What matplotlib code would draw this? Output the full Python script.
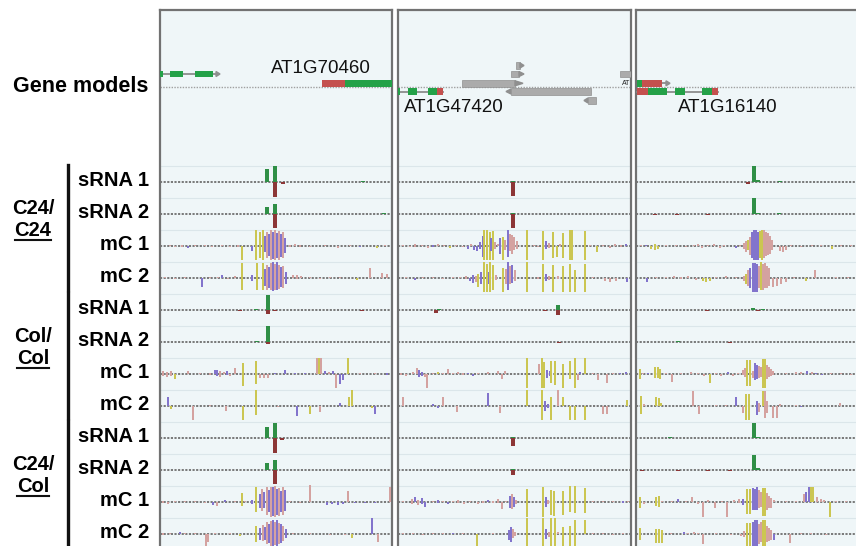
import matplotlib.pyplot as plt
from matplotlib.patches import Rectangle, Polygon

plt.rcParams['font.family'] = ['Liberation Sans', 'DejaVu Sans']

W, H = 856, 546

# ---- labels ----
TRACK_NAMES = ['sRNA 1', 'sRNA 2', 'mC 1', 'mC 2'] * 3
GROUPS = [('C24/', 'C24'), ('Col/', 'Col'), ('C24/', 'Col')]
GENE_LABELS = ['AT1G70460', 'AT1G47420', 'AT1G16140']
GENE_LABEL_POS = [(161, 68), (56, 107), (92, 107)]

# ---- gene models: (kind, start, end, row) ----
P1_GENES = [('line', 0, 56, 2), ('cds', 0, 3, 2), ('cds', 10, 23, 2), ('cds', 35, 53, 2), ('tipR', 56, 60, 2),
            ('utr', 162, 185, 1), ('cds', 185, 234, 1)]
P2_GENES = [('line', 0, 45, -1), ('cds', 0, 2, -1), ('cds', 10, 19, -1), ('cds', 30, 39, -1), ('utr', 39, 45, -1),
            ('te', 64, 117, 1), ('tipR', 117, 125, 1), ('te', 113, 121, 2), ('tipR', 121, 126, 2),
            ('te', 118, 122, 3), ('tipR', 122, 126, 3),
            ('tipL', 108, 113, -1), ('te', 113, 193, -1), ('tipL', 186, 190, -2), ('te', 190, 198, -2),
            ('te', 222, 234, 2)]
P3_GENES = [('line', 26, 32, 1), ('cds', 1, 6, 1), ('utr', 6, 26, 1), ('tipR', 30, 34, 1),
            ('line', 1, 82, -1), ('utr', 1, 12, -1), ('cds', 12, 31, -1), ('cds', 39, 49, -1),
            ('cds', 66, 76, -1), ('utr', 76, 82, -1)]

# ---- sRNA tracks: (position, watson reads, crick reads) ----
P1_C24_S1 = [(107, 13, 0), (115, 16, 15), (123, 0, 2), (203, 1, 0)]
P1_C24_S2 = [(107, 7, 0), (115, 10, 14), (224, 1, 0)]
P1_COL_S1 = [(80, 0, 1), (96, 1, 0), (108, 15, 4), (115, 0, 1), (202, 0, 1)]
P1_COL_S2 = [(97, 1, 0), (108, 16, 2)]
P1_HYB_S1 = [(107, 11, 0), (115, 15, 15), (122, 0, 2)]
P1_HYB_S2 = [(107, 7, 0), (115, 10, 14)]

P2_C24_S1 = [(115, 1, 14)]
P2_C24_S2 = [(115, 1, 14)]
P2_COL_S1 = [(38, 0, 3), (41, 1, 0), (147, 0, 1), (160, 5, 5)]
P2_COL_S2 = [(161, 0, 1)]
P2_HYB_S1 = [(115, 1, 8)]
P2_HYB_S2 = [(115, 1, 5)]

P3_C24_S1 = [(112, 0, 2), (118, 16, 0), (122, 2, 0), (144, 1, 0)]
P3_C24_S2 = [(19, 0, 1), (41, 0, 1), (72, 0, 1), (118, 16, 0), (122, 1, 0), (143, 1, 0)]
P3_COL_S1 = [(71, 0, 1), (117, 2, 0), (122, 0, 1), (127, 1, 0)]
P3_COL_S2 = [(42, 1, 0), (94, 0, 1)]
P3_HYB_S1 = [(34, 1, 0), (118, 15, 0), (122, 1, 0)]
P3_HYB_S2 = [(6, 0, 1), (42, 0, 1), (72, 0, 1), (94, 0, 1), (118, 15, 0), (122, 2, 0)]

# ---- methylation tracks: (position, watson mC, crick mC, context) ----
P1_C24_M1 = [(10, 1, 0, 'CHH'), (15, 0, 1, 'CHH'), (22, 1, 1, 'CHH'), (28, 0, 2, 'CHG'), (35, 1, 0, 'CHH'),
             (45, 1, 0, 'CHH'), (52, 0, 1, 'CHH'), (62, 1, 0, 'CHH'), (70, 0, 1, 'CHH'), (78, 1, 1, 'CHH'),
             (82, 0, 14, 'CG'), (92, 0, 5, 'CHG'), (96, 16, 14, 'CG'), (100, 14, 12, 'CG'), (103, 16, 14, 'CG'),
             (105, 10, 6, 'CHG'), (107, 14, 12, 'CHH'), (109, 12, 10, 'CHG'), (111, 16, 14, 'CHH'),
             (113, 14, 13, 'CHG'), (115, 16, 14, 'CHH'), (117, 13, 12, 'CHG'), (119, 15, 14, 'CHH'),
             (121, 12, 11, 'CHG'), (123, 14, 12, 'CHH'), (125, 8, 7, 'CHG'), (130, 1, 1, 'CHH'),
             (135, 2, 0, 'CHH'), (140, 1, 1, 'CHH'), (150, 0, 1, 'CHH'), (165, 1, 0, 'CHH'), (178, 0, 2, 'CHH'),
             (190, 1, 0, 'CHH'), (200, 0, 1, 'CHG'), (217, 0, 2, 'CG'), (225, 1, 0, 'CHH')]
P1_C24_M2 = [(5, 1, 0, 'CHH'), (15, 0, 1, 'CHH'), (25, 1, 0, 'CHH'), (42, 0, 9, 'CHG'), (50, 1, 0, 'CHH'),
             (58, 1, 0, 'CHH'), (62, 3, 0, 'CHG'), (68, 0, 1, 'CHH'), (75, 2, 0, 'CHH'), (82, 15, 12, 'CG'),
             (92, 3, 3, 'CHG'), (97, 15, 12, 'CG'), (103, 15, 12, 'CG'), (105, 9, 8, 'CHG'), (107, 13, 12, 'CHH'),
             (109, 11, 10, 'CHG'), (111, 15, 12, 'CHH'), (113, 16, 13, 'CHG'), (115, 14, 12, 'CHH'),
             (117, 16, 12, 'CHG'), (119, 13, 11, 'CHH'), (121, 11, 9, 'CHG'), (123, 12, 10, 'CHH'),
             (126, 6, 6, 'CHG'), (133, 3, 0, 'CHH'), (137, 3, 1, 'CHH'), (141, 2, 0, 'CHH'), (150, 1, 0, 'CHH'),
             (160, 0, 1, 'CHH'), (170, 1, 0, 'CHH'), (180, 1, 0, 'CHH'), (197, 0, 2, 'CG'), (210, 10, 0, 'CHH'),
             (222, 5, 0, 'CHH'), (227, 4, 0, 'CHH')]
P1_COL_M1 = [(3, 3, 2, 'CHH'), (7, 2, 3, 'CHH'), (11, 3, 2, 'CHH'), (15, 0, 5, 'CG'), (28, 3, 0, 'CHH'),
             (40, 1, 0, 'CHH'), (50, 1, 1, 'CHH'), (55, 4, 0, 'CHG'), (57, 4, 2, 'CHG'), (60, 3, 3, 'CHH'),
             (64, 2, 0, 'CHH'), (67, 3, 1, 'CHG'), (70, 0, 2, 'CHH'), (75, 6, 0, 'CHH'), (83, 11, 12, 'CG'),
             (96, 13, 10, 'CG'), (100, 0, 4, 'CHH'), (104, 0, 4, 'CHH'), (108, 0, 4, 'CHH'), (115, 1, 0, 'CHG'),
             (125, 4, 0, 'CHG'), (135, 1, 0, 'CHG'), (145, 1, 0, 'CHG'), (157, 16, 0, 'CHH'), (159, 16, 0, 'CG'),
             (161, 16, 0, 'CHH'), (165, 3, 0, 'CHG'), (169, 2, 0, 'CHH'), (173, 3, 0, 'CHG'), (176, 0, 14, 'CHH'),
             (180, 0, 10, 'CHG'), (183, 0, 6, 'CHG'), (188, 16, 0, 'CG'), (200, 1, 0, 'CHH'), (215, 1, 0, 'CHH'),
             (227, 1, 1, 'CHG')]
P1_COL_M2 = [(8, 9, 0, 'CHG'), (11, 0, 3, 'CG'), (33, 0, 14, 'CHH'), (50, 1, 0, 'CHH'), (66, 0, 5, 'CHH'),
             (83, 0, 14, 'CG'), (96, 16, 9, 'CG'), (118, 0, 1, 'CHH'), (137, 0, 10, 'CHG'), (150, 0, 8, 'CG'),
             (160, 0, 6, 'CHH'), (180, 3, 0, 'CHG'), (189, 9, 0, 'CG'), (192, 16, 0, 'CG'), (212, 0, 2, 'CG'),
             (215, 0, 8, 'CHG')]
P1_HYB_M1 = [(3, 1, 1, 'CHH'), (8, 0, 2, 'CHH'), (15, 1, 0, 'CHH'), (25, 1, 0, 'CHH'), (35, 1, 0, 'CHH'),
             (45, 0, 1, 'CHH'), (53, 0, 3, 'CHG'), (57, 0, 4, 'CHH'), (65, 2, 0, 'CHG'), (75, 1, 0, 'CHH'),
             (82, 9, 4, 'CG'), (85, 1, 0, 'CHH'), (92, 2, 2, 'CHG'), (96, 15, 10, 'CG'), (100, 8, 6, 'CHG'),
             (102, 13, 9, 'CHH'), (104, 10, 6, 'CHG'), (107, 15, 13, 'CHH'), (109, 12, 10, 'CHG'),
             (111, 15, 15, 'CHH'), (113, 15, 14, 'CHG'), (115, 16, 15, 'CHH'), (117, 13, 13, 'CHG'),
             (119, 14, 14, 'CHH'), (121, 11, 10, 'CHG'), (123, 15, 13, 'CHH'), (125, 12, 9, 'CHG'),
             (130, 1, 0, 'CHH'), (140, 0, 1, 'CHH'), (150, 17, 0, 'CHH'), (167, 0, 3, 'CHG'), (172, 0, 2, 'CHG'),
             (178, 0, 3, 'CHG'), (183, 0, 2, 'CHG'), (188, 11, 0, 'CHH'), (195, 0, 1, 'CHG'), (205, 0, 1, 'CHG'),
             (215, 0, 1, 'CHG'), (230, 15, 0, 'CHH')]
P1_HYB_M2 = [(3, 1, 1, 'CHH'), (10, 1, 0, 'CHH'), (20, 2, 0, 'CHG'), (25, 1, 0, 'CHH'), (35, 1, 0, 'CHH'),
             (46, 0, 14, 'CHH'), (48, 0, 8, 'CHH'), (55, 1, 0, 'CHH'), (70, 1, 0, 'CHH'), (80, 0, 2, 'CG'),
             (96, 8, 8, 'CG'), (100, 6, 6, 'CHG'), (103, 9, 7, 'CHH'), (105, 7, 6, 'CHG'), (107, 12, 10, 'CHH'),
             (109, 10, 9, 'CHG'), (111, 13, 12, 'CHH'), (113, 14, 12, 'CHG'), (115, 12, 11, 'CHH'),
             (117, 14, 12, 'CHG'), (119, 11, 10, 'CHH'), (121, 10, 9, 'CHG'), (123, 8, 7, 'CHH'),
             (126, 5, 4, 'CHG'), (133, 1, 0, 'CHH'), (150, 1, 0, 'CHH'), (170, 0, 1, 'CHH'), (185, 0, 1, 'CHH'),
             (192, 0, 4, 'CG'), (212, 16, 0, 'CHG'), (218, 0, 8, 'CHH')]

P2_C24_M1 = [(5, 1, 0, 'CHH'), (12, 0, 1, 'CHH'), (17, 2, 1, 'CHH'), (24, 1, 0, 'CHH'), (30, 0, 2, 'CHH'),
             (35, 1, 1, 'CHG'), (40, 2, 0, 'CHH'), (46, 1, 0, 'CHH'), (52, 0, 2, 'CG'), (58, 1, 0, 'CHH'),
             (65, 0, 1, 'CHH'), (70, 0, 3, 'CHG'), (73, 2, 0, 'CHH'), (76, 0, 4, 'CHG'), (79, 0, 5, 'CHG'),
             (82, 4, 3, 'CHG'), (85, 10, 11, 'CHG'), (86, 16, 14, 'CG'), (89, 16, 14, 'CG'), (92, 14, 14, 'CG'),
             (93, 8, 5, 'CHG'), (95, 15, 14, 'CG'), (97, 4, 3, 'CHH'), (100, 2, 0, 'CHH'), (102, 8, 8, 'CHG'),
             (105, 9, 14, 'CG'), (107, 6, 4, 'CHH'), (110, 16, 11, 'CHG'), (112, 12, 5, 'CHH'), (114, 11, 8, 'CHH'),
             (116, 9, 4, 'CHH'), (119, 5, 3, 'CHH'), (129, 16, 14, 'CG'), (136, 1, 0, 'CHH'), (140, 0, 1, 'CHH'),
             (145, 15, 14, 'CG'), (148, 5, 3, 'CHG'), (151, 3, 2, 'CHH'), (155, 14, 12, 'CG'), (159, 0, 11, 'CG'),
             (162, 2, 0, 'CHH'), (165, 13, 12, 'CG'), (172, 16, 14, 'CG'), (174, 16, 14, 'CG'), (187, 15, 14, 'CG'),
             (192, 1, 0, 'CHH'), (199, 0, 6, 'CG'), (205, 1, 0, 'CHH'), (212, 0, 2, 'CHH'), (217, 2, 0, 'CHH'),
             (223, 1, 1, 'CHH'), (228, 2, 0, 'CHG')]
P2_C24_M2 = [(8, 1, 0, 'CHH'), (17, 0, 2, 'CHG'), (25, 1, 0, 'CHH'), (35, 1, 0, 'CHH'), (45, 0, 1, 'CHH'),
             (55, 1, 0, 'CHH'), (62, 1, 0, 'CHH'), (68, 2, 1, 'CHH'), (72, 0, 3, 'CHG'), (75, 3, 5, 'CHG'),
             (78, 2, 4, 'CHH'), (80, 4, 9, 'CG'), (83, 6, 6, 'CHG'), (86, 16, 14, 'CG'), (89, 14, 14, 'CG'),
             (91, 6, 6, 'CHG'), (92, 16, 14, 'CG'), (95, 13, 12, 'CG'), (98, 3, 2, 'CHH'), (105, 10, 14, 'CG'),
             (108, 9, 6, 'CHH'), (110, 16, 12, 'CHG'), (112, 12, 6, 'CHH'), (114, 13, 5, 'CHG'), (117, 8, 3, 'CHH'),
             (129, 16, 14, 'CG'), (140, 1, 1, 'CHH'), (145, 14, 14, 'CG'), (148, 4, 3, 'CHG'), (151, 2, 2, 'CHH'),
             (155, 13, 14, 'CG'), (160, 2, 1, 'CHH'), (165, 12, 14, 'CG'), (172, 14, 14, 'CG'), (177, 8, 14, 'CG'),
             (187, 14, 14, 'CG'), (195, 1, 0, 'CHH'), (207, 0, 3, 'CHH'), (212, 0, 4, 'CHH'), (218, 0, 3, 'CHH'),
             (229, 0, 4, 'CHG')]
P2_COL_M1 = [(3, 1, 1, 'CHH'), (8, 0, 2, 'CHH'), (15, 2, 0, 'CHH'), (19, 6, 0, 'CHH'), (21, 4, 3, 'CHG'),
             (24, 2, 2, 'CHG'), (27, 0, 3, 'CHH'), (29, 0, 14, 'CHH'), (35, 1, 0, 'CHH'), (40, 2, 0, 'CG'),
             (45, 1, 0, 'CHH'), (50, 5, 0, 'CHH'), (55, 1, 0, 'CHH'), (60, 2, 0, 'CHH'), (65, 1, 1, 'CHH'),
             (70, 1, 0, 'CHG'), (75, 0, 2, 'CHG'), (80, 1, 0, 'CHH'), (90, 2, 0, 'CHH'), (100, 3, 0, 'CHH'),
             (104, 0, 5, 'CHH'), (107, 3, 0, 'CHH'), (129, 16, 14, 'CG'), (141, 10, 0, 'CHH'), (144, 16, 14, 'CG'),
             (146, 12, 14, 'CG'), (149, 4, 4, 'CHG'), (152, 3, 2, 'CHG'), (153, 13, 9, 'CG'), (157, 13, 11, 'CG'),
             (165, 10, 14, 'CG'), (172, 13, 5, 'CG'), (177, 16, 14, 'CG'), (180, 0, 6, 'CHH'), (182, 2, 0, 'CHG'),
             (187, 16, 0, 'CG'), (195, 1, 0, 'CHH'), (200, 0, 6, 'CHH'), (209, 0, 9, 'CHH'), (215, 1, 0, 'CHH'),
             (222, 1, 0, 'CHG'), (228, 2, 0, 'CHG')]
P2_COL_M2 = [(5, 9, 0, 'CHH'), (35, 2, 0, 'CHG'), (40, 0, 2, 'CHG'), (45, 9, 0, 'CHH'), (59, 0, 6, 'CHH'),
             (90, 13, 0, 'CHG'), (102, 0, 7, 'CHH'), (129, 16, 0, 'CG'), (144, 16, 14, 'CG'), (147, 5, 5, 'CHG'),
             (150, 2, 2, 'CHG'), (153, 9, 14, 'CG'), (160, 16, 0, 'CHH'), (165, 9, 0, 'CG'), (172, 0, 14, 'CG'),
             (177, 0, 14, 'CG'), (187, 0, 14, 'CG'), (205, 0, 8, 'CHH'), (209, 0, 8, 'CHH'), (229, 6, 0, 'CG')]
P2_HYB_M1 = [(5, 1, 0, 'CHH'), (14, 3, 2, 'CHH'), (17, 5, 0, 'CHG'), (20, 2, 3, 'CHH'), (24, 4, 2, 'CHG'),
             (27, 0, 5, 'CHG'), (35, 1, 0, 'CHH'), (40, 2, 1, 'CHG'), (45, 1, 0, 'CHH'), (50, 0, 2, 'CHG'),
             (55, 1, 0, 'CHH'), (60, 2, 1, 'CHH'), (66, 0, 2, 'CHH'), (72, 1, 0, 'CHH'), (80, 0, 2, 'CHH'),
             (85, 1, 1, 'CHH'), (90, 2, 0, 'CHG'), (95, 1, 1, 'CHH'), (100, 3, 1, 'CHH'), (104, 0, 7, 'CHH'),
             (108, 1, 0, 'CHH'), (112, 6, 6, 'CHG'), (114, 8, 7, 'CHH'), (116, 5, 5, 'CHG'), (118, 2, 2, 'CHH'),
             (129, 13, 15, 'CG'), (145, 15, 15, 'CG'), (148, 5, 5, 'CHG'), (150, 2, 2, 'CHH'), (153, 12, 13, 'CG'),
             (156, 11, 14, 'CG'), (165, 11, 13, 'CG'), (172, 16, 10, 'CG'), (177, 16, 11, 'CG'), (187, 14, 11, 'CG'),
             (195, 1, 0, 'CHH'), (205, 1, 0, 'CHH'), (215, 1, 0, 'CHH'), (225, 1, 1, 'CHG'), (230, 1, 0, 'CHH')]
P2_HYB_M2 = [(5, 1, 0, 'CHH'), (15, 1, 0, 'CHH'), (25, 0, 1, 'CHH'), (35, 1, 0, 'CHH'), (45, 1, 0, 'CHH'),
             (55, 1, 0, 'CHG'), (65, 1, 0, 'CHH'), (79, 0, 12, 'CG'), (95, 1, 0, 'CHH'), (111, 4, 6, 'CHG'),
             (113, 7, 8, 'CHG'), (115, 5, 4, 'CHH'), (117, 2, 2, 'CHH'), (129, 16, 12, 'CG'), (145, 16, 12, 'CG'),
             (148, 5, 5, 'CHG'), (151, 2, 3, 'CHH'), (153, 16, 12, 'CG'), (157, 16, 12, 'CG'), (160, 2, 0, 'CHH'),
             (165, 7, 12, 'CG'), (172, 8, 12, 'CG'), (177, 14, 12, 'CG'), (187, 14, 0, 'CG'), (195, 1, 0, 'CHH'),
             (205, 1, 0, 'CHH'), (215, 0, 1, 'CHH'), (225, 1, 0, 'CHH')]

P3_C24_M1 = [(5, 1, 0, 'CHH'), (10, 1, 0, 'CHG'), (15, 0, 3, 'CG'), (19, 2, 4, 'CG'), (22, 0, 3, 'CG'),
             (30, 1, 0, 'CHH'), (40, 1, 0, 'CHH'), (50, 0, 1, 'CHH'), (58, 1, 0, 'CHH'), (62, 2, 0, 'CHH'),
             (66, 0, 2, 'CHH'), (72, 1, 0, 'CHH'), (78, 2, 0, 'CHH'), (84, 0, 2, 'CHH'), (88, 1, 0, 'CHH'),
             (100, 0, 2, 'CHG'), (104, 1, 0, 'CHH'), (108, 3, 3, 'CHH'), (110, 5, 6, 'CHH'), (112, 6, 4, 'CG'),
             (114, 9, 9, 'CHH'), (116, 14, 12, 'CHG'), (118, 16, 14, 'CHG'), (120, 16, 14, 'CHG'),
             (122, 14, 14, 'CHG'), (124, 15, 12, 'CG'), (126, 16, 14, 'CG'), (128, 16, 12, 'CHH'),
             (130, 14, 10, 'CHH'), (132, 13, 9, 'CHH'), (134, 10, 8, 'CHH'), (136, 6, 4, 'CHH'), (144, 0, 5, 'CHH'),
             (147, 0, 6, 'CHH'), (150, 0, 4, 'CHH'), (155, 1, 0, 'CHH'), (165, 0, 1, 'CHH'), (176, 1, 0, 'CHH'),
             (185, 1, 0, 'CHH'), (196, 0, 3, 'CG'), (205, 1, 0, 'CHH'), (215, 1, 0, 'CHH')]
P3_C24_M2 = [(11, 0, 4, 'CHG'), (20, 1, 0, 'CHH'), (30, 1, 0, 'CHH'), (38, 2, 0, 'CHH'), (45, 1, 1, 'CHH'),
             (52, 2, 0, 'CHH'), (60, 0, 2, 'CHH'), (67, 0, 3, 'CG'), (70, 0, 4, 'CG'), (74, 0, 3, 'CG'),
             (80, 1, 0, 'CHH'), (90, 2, 0, 'CHH'), (100, 1, 0, 'CHH'), (108, 2, 3, 'CHH'), (110, 4, 6, 'CG'),
             (112, 8, 8, 'CHH'), (114, 10, 10, 'CHG'), (117, 15, 14, 'CHG'), (119, 15, 14, 'CHG'),
             (121, 14, 14, 'CHG'), (123, 12, 10, 'CHH'), (125, 16, 12, 'CG'), (127, 14, 12, 'CHH'),
             (129, 15, 10, 'CHH'), (131, 12, 10, 'CHH'), (133, 10, 8, 'CHH'), (137, 0, 9, 'CHH'), (141, 0, 8, 'CHH'),
             (145, 0, 6, 'CHH'), (150, 0, 4, 'CHH'), (158, 1, 0, 'CHH'), (170, 0, 3, 'CG'), (179, 8, 0, 'CHH'),
             (200, 1, 0, 'CHH'), (212, 1, 0, 'CHH')]
P3_COL_M1 = [(4, 5, 5, 'CG'), (7, 1, 0, 'CHH'), (12, 1, 0, 'CHG'), (19, 7, 4, 'CG'), (22, 7, 4, 'CG'),
             (24, 5, 5, 'CG'), (30, 1, 0, 'CHH'), (36, 0, 8, 'CHH'), (45, 1, 0, 'CHH'), (55, 2, 0, 'CHH'),
             (62, 1, 0, 'CHH'), (68, 0, 2, 'CHH'), (74, 0, 9, 'CG'), (80, 1, 0, 'CHH'), (85, 0, 2, 'CHH'),
             (92, 2, 0, 'CHG'), (97, 0, 2, 'CHH'), (102, 1, 0, 'CHH'), (107, 4, 1, 'CHH'), (109, 6, 3, 'CHH'),
             (111, 14, 12, 'CG'), (114, 14, 12, 'CG'), (117, 3, 4, 'CHH'), (119, 11, 6, 'CHG'), (121, 9, 5, 'CHG'),
             (123, 8, 4, 'CHH'), (125, 7, 3, 'CHH'), (127, 15, 14, 'CG'), (129, 15, 14, 'CG'), (131, 9, 5, 'CHH'),
             (133, 7, 3, 'CHH'), (135, 5, 2, 'CHH'), (137, 3, 1, 'CHH'), (150, 1, 0, 'CHH'), (160, 2, 0, 'CHH'),
             (165, 2, 0, 'CHH'), (171, 3, 0, 'CHG'), (176, 2, 0, 'CHH'), (180, 1, 0, 'CHG'), (186, 0, 1, 'CHG'),
             (195, 1, 0, 'CHH'), (205, 1, 0, 'CHH'), (215, 0, 1, 'CHH')]
P3_COL_M2 = [(5, 10, 8, 'CG'), (8, 2, 0, 'CHH'), (20, 9, 0, 'CG'), (23, 8, 0, 'CG'), (25, 3, 0, 'CG'),
             (57, 15, 0, 'CHH'), (63, 0, 8, 'CHH'), (80, 1, 0, 'CHH'), (90, 1, 0, 'CHH'), (100, 9, 0, 'CHG'),
             (107, 0, 7, 'CHH'), (110, 12, 14, 'CG'), (113, 12, 14, 'CG'), (121, 5, 9, 'CHG'), (123, 3, 6, 'CHH'),
             (127, 15, 0, 'CG'), (129, 15, 12, 'CHH'), (131, 5, 7, 'CHH'), (137, 0, 12, 'CHH'), (141, 0, 12, 'CHH'),
             (144, 2, 0, 'CHH'), (160, 1, 0, 'CHH'), (165, 0, 1, 'CHG'), (204, 3, 0, 'CHH')]
P3_HYB_M1 = [(4, 5, 6, 'CG'), (8, 0, 2, 'CHH'), (20, 5, 4, 'CG'), (23, 6, 5, 'CG'), (26, 1, 0, 'CHH'),
             (36, 1, 0, 'CHH'), (42, 3, 0, 'CHG'), (50, 1, 0, 'CHH'), (56, 5, 0, 'CHH'), (62, 0, 2, 'CHH'),
             (67, 0, 15, 'CHH'), (72, 2, 0, 'CHH'), (79, 0, 6, 'CHH'), (86, 1, 0, 'CHH'), (91, 0, 15, 'CHH'),
             (98, 2, 0, 'CHH'), (103, 3, 1, 'CHH'), (107, 3, 3, 'CHG'), (111, 13, 12, 'CG'), (114, 13, 12, 'CG'),
             (117, 14, 8, 'CHG'), (119, 13, 8, 'CHG'), (121, 15, 8, 'CHG'), (123, 12, 6, 'CHH'), (125, 10, 5, 'CHH'),
             (127, 14, 14, 'CG'), (129, 14, 14, 'CG'), (131, 9, 8, 'CHH'), (133, 6, 6, 'CHH'), (135, 4, 6, 'CHH'),
             (138, 2, 0, 'CHH'), (150, 1, 0, 'CHH'), (160, 1, 0, 'CHH'), (168, 8, 0, 'CHH'), (170, 10, 0, 'CHG'),
             (173, 15, 0, 'CHG'), (175, 15, 0, 'CG'), (177, 15, 0, 'CG'), (181, 5, 0, 'CHH'), (185, 3, 0, 'CHH'),
             (188, 2, 0, 'CHH'), (194, 0, 15, 'CG'), (200, 1, 0, 'CHH'), (210, 1, 0, 'CHH')]
P3_HYB_M2 = [(4, 6, 6, 'CG'), (20, 5, 9, 'CG'), (23, 5, 9, 'CG'), (26, 4, 9, 'CG'), (35, 1, 0, 'CHH'),
             (48, 2, 0, 'CHG'), (52, 1, 0, 'CHH'), (58, 2, 0, 'CHH'), (62, 1, 0, 'CHH'), (67, 0, 10, 'CHH'),
             (80, 1, 0, 'CHH'), (95, 0, 1, 'CHH'), (105, 0, 2, 'CHH'), (108, 3, 3, 'CHH'), (111, 11, 14, 'CG'),
             (114, 11, 14, 'CG'), (117, 12, 12, 'CHG'), (119, 14, 12, 'CHG'), (121, 14, 12, 'CHG'),
             (123, 10, 10, 'CHH'), (125, 12, 8, 'CHH'), (127, 14, 14, 'CG'), (129, 14, 14, 'CG'), (131, 8, 8, 'CHH'),
             (133, 6, 7, 'CHH'), (135, 4, 6, 'CHH'), (138, 0, 6, 'CHG'), (154, 0, 9, 'CHH'), (165, 1, 0, 'CHH'),
             (175, 1, 0, 'CHH'), (190, 0, 1, 'CHH')]

PANELS = [
    (P1_GENES, [P1_C24_S1, P1_C24_S2, P1_C24_M1, P1_C24_M2, P1_COL_S1, P1_COL_S2, P1_COL_M1, P1_COL_M2,
                P1_HYB_S1, P1_HYB_S2, P1_HYB_M1, P1_HYB_M2]),
    (P2_GENES, [P2_C24_S1, P2_C24_S2, P2_C24_M1, P2_C24_M2, P2_COL_S1, P2_COL_S2, P2_COL_M1, P2_COL_M2,
                P2_HYB_S1, P2_HYB_S2, P2_HYB_M1, P2_HYB_M2]),
    (P3_GENES, [P3_C24_S1, P3_C24_S2, P3_C24_M1, P3_C24_M2, P3_COL_S1, P3_COL_S2, P3_COL_M1, P3_COL_M2,
                P3_HYB_S1, P3_HYB_S2, P3_HYB_M1, P3_HYB_M2]),
]

# ---- layout / styles ----
PANEL_X = [(160, 392), (398, 631), (636, 870)]
PANEL_TOP, PANEL_BOTTOM = 10, 560
GENE_BASE = 87
TRACK_BASE = [182 + 32 * i for i in range(12)]
ROW_Y = {1: 83.3, 2: 74.0, 3: 65.5, -1: 91.5, -2: 100.5}
MC_COLORS = {'CG': '#cbc652', 'CHG': '#8274cc', 'CHH': '#d4a2a0'}
GENE_COLORS = {'cds': '#24a148', 'utr': '#c4504e', 'te': '#ababab'}
SRNA_UP, SRNA_DOWN = '#2f8f46', '#8c3636'
PANEL_BG = '#eff6f8'

fig = plt.figure(figsize=(W / 100, H / 100), dpi=100)
bg = fig.add_axes([0, 0, 1, 1])
bg.set_xlim(0, W)
bg.set_ylim(H, 0)
bg.axis('off')


def draw_gene(ax, kind, x0, x1, row):
    yc = ROW_Y[row]
    hh = 3.3
    if kind == 'line':
        ax.plot([x0, x1], [yc, yc], color='#8c8c8c', lw=1.3, zorder=3)
    elif kind in ('tipR', 'tipL'):
        if kind == 'tipR':
            pts = [(x0, yc - 2.5), (x1, yc), (x0, yc + 2.5)]
        else:
            pts = [(x1, yc - 2.5), (x0, yc), (x1, yc + 2.5)]
        ax.add_patch(Polygon(pts, closed=True, color='#8f8f8f', zorder=4))
    else:
        ec = '#909090' if kind == 'te' else 'none'
        ax.add_patch(Rectangle((x0, yc - hh), x1 - x0, 2 * hh, facecolor=GENE_COLORS[kind],
                               edgecolor=ec, lw=0.5, zorder=4))


panel_axes = []
for (left, right), (genes, tracks), glabel, gpos in zip(PANEL_X, PANELS, GENE_LABELS, GENE_LABEL_POS):
    ax = fig.add_axes([left / W, 1 - PANEL_BOTTOM / H, (right - left) / W, (PANEL_BOTTOM - PANEL_TOP) / H])
    panel_axes.append(ax)
    ax.set_xlim(0, right - left)
    ax.set_ylim(PANEL_BOTTOM, PANEL_TOP)
    ax.set_facecolor(PANEL_BG)
    ax.set_xticks([])
    ax.set_yticks([])
    for s in ax.spines.values():
        s.set_color('#727272')
        s.set_linewidth(1.6)

    # gene model row
    ax.axhline(GENE_BASE, color='#a0a0a0', lw=1.0, ls=(0, (1, 1)), zorder=2)
    for kind, x0, x1, row in genes:
        draw_gene(ax, kind, x0, x1, row)
    ax.text(gpos[0], gpos[1], glabel, ha='center', va='center', fontsize=13.5, color='#111111', zorder=5)

    # data tracks
    for i, (base, data) in enumerate(zip(TRACK_BASE, tracks)):
        ax.axhline(base - 16, color='#dbe6ea', lw=0.8, zorder=1)
        ax.axhline(base, color='#6f6f6f', lw=1.3, ls=(0, (1.2, 0.8)), zorder=2)
        if i % 4 < 2:
            for x, up, down in data:
                if up:
                    ax.bar(x, -up, width=3.6, bottom=base, color=SRNA_UP, lw=0, zorder=3)
                if down:
                    ax.bar(x, down, width=3.6, bottom=base, color=SRNA_DOWN, lw=0, zorder=3)
        else:
            for x, up, down, ctx in data:
                if up:
                    ax.bar(x, -up, width=1.5, bottom=base, color=MC_COLORS[ctx], lw=0, zorder=3)
                if down:
                    ax.bar(x, down, width=1.5, bottom=base, color=MC_COLORS[ctx], lw=0, zorder=3)

# tiny truncated label at right of panel 2
panel_axes[1].text(224, 83, 'AT', fontsize=5, ha='left', va='center', color='#222222', zorder=6)

# left-hand labels
bg.text(81, 86, 'Gene models', ha='center', va='center', fontsize=15.5, fontweight='bold')
for name, base in zip(TRACK_NAMES, TRACK_BASE):
    bg.text(149, base - 2, name, ha='right', va='center', fontsize=14.5, fontweight='bold')

renderer = fig.canvas.get_renderer()
for g, (top, bottom) in enumerate(GROUPS):
    mid = (TRACK_BASE[4 * g + 1] + TRACK_BASE[4 * g + 2]) / 2
    bg.text(33, mid - 22, top, ha='center', va='center', fontsize=14.5, fontweight='bold')
    t = bg.text(33, mid, bottom, ha='center', va='center', fontsize=14.5, fontweight='bold')
    bb = t.get_window_extent(renderer)
    bg.plot([bb.x0, bb.x1], [mid + 10, mid + 10], color='#111111', lw=1.5)
    bg.plot([68, 68], [TRACK_BASE[4 * g] - 17, TRACK_BASE[4 * g + 3] + 12], color='#111111', lw=2.4)

# strand labels (cut off at right edge)
bg.text(838, 65, 'W', ha='left', va='center', fontsize=14.5, fontweight='bold')
bg.text(840, 100, 'C', ha='left', va='center', fontsize=14.5, fontweight='bold')

fig.savefig('out.png', dpi=100)
